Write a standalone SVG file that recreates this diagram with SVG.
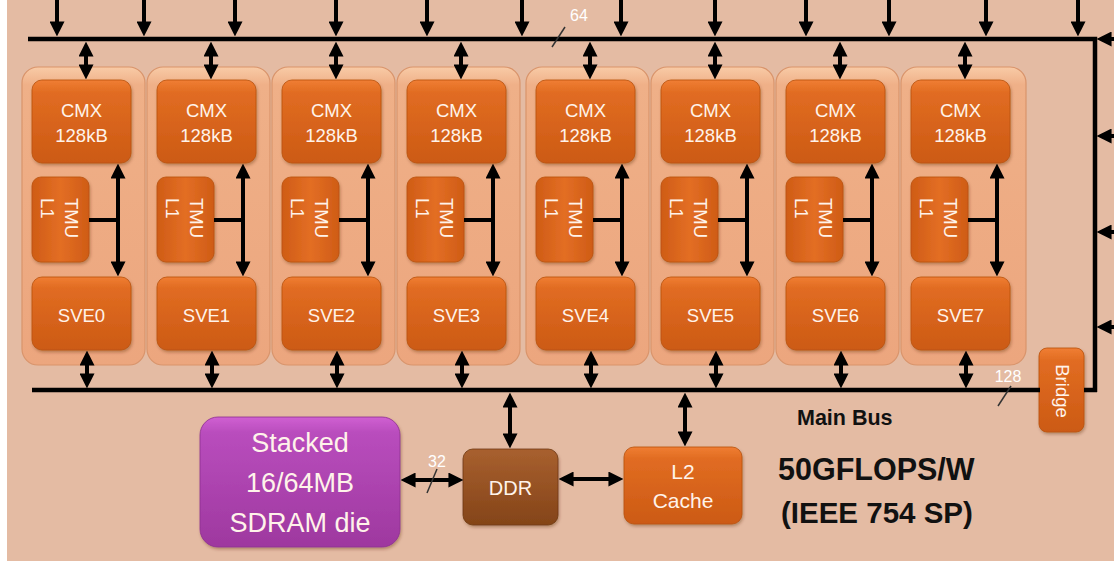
<svg xmlns="http://www.w3.org/2000/svg" width="1114" height="561" viewBox="0 0 1114 561">
<defs>
<linearGradient id="gOr" x1="0" y1="0" x2="0" y2="1"><stop offset="0" stop-color="#F07E33"/><stop offset="0.15" stop-color="#E16C22"/><stop offset="1" stop-color="#CC5A14"/></linearGradient>
<linearGradient id="gOrH" x1="0" y1="0" x2="1" y2="0"><stop offset="0" stop-color="#CF5C16"/><stop offset="0.5" stop-color="#E36E24"/><stop offset="1" stop-color="#CF5C16"/></linearGradient>
<linearGradient id="gOut" x1="0" y1="0" x2="0" y2="1"><stop offset="0" stop-color="#F8CBA6"/><stop offset="0.06" stop-color="#EFB088"/><stop offset="1" stop-color="#ECA67E"/></linearGradient>
<linearGradient id="gPur" x1="0" y1="0" x2="0" y2="1"><stop offset="0" stop-color="#D060D2"/><stop offset="0.12" stop-color="#B94DBD"/><stop offset="1" stop-color="#9E389F"/></linearGradient>
<linearGradient id="gBr" x1="0" y1="0" x2="0" y2="1"><stop offset="0" stop-color="#A8602F"/><stop offset="1" stop-color="#844418"/></linearGradient>
<filter id="sh" x="-10%" y="-10%" width="120%" height="125%"><feDropShadow dx="1" dy="2" stdDeviation="1.5" flood-color="#5a2a0a" flood-opacity="0.35"/></filter>
<marker id="ah" viewBox="0 0 14 14" refX="8" refY="7" markerWidth="15" markerHeight="15" markerUnits="userSpaceOnUse" orient="auto-start-reverse"><path d="M0,0 L14,7 L0,14 z" fill="#000"/></marker>
</defs>
<style>
.outer{fill:url(#gOut);stroke:#D9946B;stroke-width:1.2}
.box{fill:url(#gOr);stroke:#B9520F;stroke-width:0.8;filter:url(#sh)}
.tmu{fill:url(#gOrH);stroke:#B9520F;stroke-width:0.8;filter:url(#sh)}
.t{font-family:"Liberation Sans",Arial,sans-serif;fill:#FFF3EA;font-size:18.5px;text-anchor:middle}
.tr{font-family:"Liberation Sans",Arial,sans-serif;fill:#FFF3EA;font-size:18.5px}
.bus{stroke:#000;stroke-width:4.5;fill:none}
.c{stroke:#000;stroke-width:4;fill:none}
.c1{stroke:#000;stroke-width:4;fill:none;marker-end:url(#ah)}
.c2{stroke:#000;stroke-width:4;fill:none;marker-start:url(#ah);marker-end:url(#ah)}
.lbl{font-family:"Liberation Sans",Arial,sans-serif;fill:#FFFFFF;font-size:16px;text-anchor:middle}
.blk{font-family:"Liberation Sans",Arial,sans-serif;font-weight:bold;fill:#111}
</style>
<rect x="0" y="0" width="1114" height="561" fill="#FFFFFF"/>
<rect x="7" y="0" width="1107" height="561" fill="#E4BBA3"/>

<g id="col0"><rect class="outer" x="22" y="67" width="123" height="298" rx="16"/>
<g id="cmx0"><rect class="box" x="32" y="80" width="99" height="83" rx="10"/><text class="t" x="81.5" y="117">CMX</text><text class="t" x="81.5" y="142">128kB</text></g>
<g id="tmu0"><rect class="tmu" x="32" y="177" width="57" height="85" rx="9"/><text class="tr" transform="translate(65,198) rotate(90)">TMU</text><text class="tr" transform="translate(41,198) rotate(90)">L1</text></g>
<g id="sve0"><rect class="box" x="32" y="277" width="99" height="73" rx="10"/><text class="t" x="81.5" y="322">SVE0</text></g></g>

<g id="col1"><rect class="outer" x="147" y="67" width="123" height="298" rx="16"/>
<g id="cmx1"><rect class="box" x="157" y="80" width="99" height="83" rx="10"/><text class="t" x="206.5" y="117">CMX</text><text class="t" x="206.5" y="142">128kB</text></g>
<g id="tmu1"><rect class="tmu" x="157" y="177" width="57" height="85" rx="9"/><text class="tr" transform="translate(190,198) rotate(90)">TMU</text><text class="tr" transform="translate(166,198) rotate(90)">L1</text></g>
<g id="sve1"><rect class="box" x="157" y="277" width="99" height="73" rx="10"/><text class="t" x="206.5" y="322">SVE1</text></g></g>

<g id="col2"><rect class="outer" x="272" y="67" width="123" height="298" rx="16"/>
<g id="cmx2"><rect class="box" x="282" y="80" width="99" height="83" rx="10"/><text class="t" x="331.5" y="117">CMX</text><text class="t" x="331.5" y="142">128kB</text></g>
<g id="tmu2"><rect class="tmu" x="282" y="177" width="57" height="85" rx="9"/><text class="tr" transform="translate(315,198) rotate(90)">TMU</text><text class="tr" transform="translate(291,198) rotate(90)">L1</text></g>
<g id="sve2"><rect class="box" x="282" y="277" width="99" height="73" rx="10"/><text class="t" x="331.5" y="322">SVE2</text></g></g>

<g id="col3"><rect class="outer" x="397" y="67" width="123" height="298" rx="16"/>
<g id="cmx3"><rect class="box" x="407" y="80" width="99" height="83" rx="10"/><text class="t" x="456.5" y="117">CMX</text><text class="t" x="456.5" y="142">128kB</text></g>
<g id="tmu3"><rect class="tmu" x="407" y="177" width="57" height="85" rx="9"/><text class="tr" transform="translate(440,198) rotate(90)">TMU</text><text class="tr" transform="translate(416,198) rotate(90)">L1</text></g>
<g id="sve3"><rect class="box" x="407" y="277" width="99" height="73" rx="10"/><text class="t" x="456.5" y="322">SVE3</text></g></g>

<g id="col4"><rect class="outer" x="526" y="67" width="123" height="298" rx="16"/>
<g id="cmx4"><rect class="box" x="536" y="80" width="99" height="83" rx="10"/><text class="t" x="585.5" y="117">CMX</text><text class="t" x="585.5" y="142">128kB</text></g>
<g id="tmu4"><rect class="tmu" x="536" y="177" width="57" height="85" rx="9"/><text class="tr" transform="translate(569,198) rotate(90)">TMU</text><text class="tr" transform="translate(545,198) rotate(90)">L1</text></g>
<g id="sve4"><rect class="box" x="536" y="277" width="99" height="73" rx="10"/><text class="t" x="585.5" y="322">SVE4</text></g></g>

<g id="col5"><rect class="outer" x="651" y="67" width="123" height="298" rx="16"/>
<g id="cmx5"><rect class="box" x="661" y="80" width="99" height="83" rx="10"/><text class="t" x="710.5" y="117">CMX</text><text class="t" x="710.5" y="142">128kB</text></g>
<g id="tmu5"><rect class="tmu" x="661" y="177" width="57" height="85" rx="9"/><text class="tr" transform="translate(694,198) rotate(90)">TMU</text><text class="tr" transform="translate(670,198) rotate(90)">L1</text></g>
<g id="sve5"><rect class="box" x="661" y="277" width="99" height="73" rx="10"/><text class="t" x="710.5" y="322">SVE5</text></g></g>

<g id="col6"><rect class="outer" x="776" y="67" width="123" height="298" rx="16"/>
<g id="cmx6"><rect class="box" x="786" y="80" width="99" height="83" rx="10"/><text class="t" x="835.5" y="117">CMX</text><text class="t" x="835.5" y="142">128kB</text></g>
<g id="tmu6"><rect class="tmu" x="786" y="177" width="57" height="85" rx="9"/><text class="tr" transform="translate(819,198) rotate(90)">TMU</text><text class="tr" transform="translate(795,198) rotate(90)">L1</text></g>
<g id="sve6"><rect class="box" x="786" y="277" width="99" height="73" rx="10"/><text class="t" x="835.5" y="322">SVE6</text></g></g>

<g id="col7"><rect class="outer" x="901" y="67" width="125" height="298" rx="16"/>
<g id="cmx7"><rect class="box" x="911" y="80" width="99" height="83" rx="10"/><text class="t" x="960.5" y="117">CMX</text><text class="t" x="960.5" y="142">128kB</text></g>
<g id="tmu7"><rect class="tmu" x="911" y="177" width="57" height="85" rx="9"/><text class="tr" transform="translate(944,198) rotate(90)">TMU</text><text class="tr" transform="translate(920,198) rotate(90)">L1</text></g>
<g id="sve7"><rect class="box" x="911" y="277" width="99" height="73" rx="10"/><text class="t" x="960.5" y="322">SVE7</text></g></g>

<g id="bridge"><rect class="box" x="1039" y="348" width="45" height="84" rx="8"/><text class="tr" text-anchor="middle" transform="translate(1056,391) rotate(90)">Bridge</text></g>

<g id="sdram"><rect x="200" y="417" width="200" height="130" rx="18" fill="url(#gPur)" stroke="#8E308F" stroke-width="0.8" filter="url(#sh)"/>
<text class="t" style="font-size:27px" x="300" y="452">Stacked</text><text class="t" style="font-size:27px" x="300" y="492">16/64MB</text><text class="t" style="font-size:27px" x="300" y="532">SDRAM die</text></g>

<g id="ddr"><rect x="463" y="449" width="95" height="76" rx="10" fill="url(#gBr)" stroke="#6E3812" stroke-width="0.8" filter="url(#sh)"/><text class="t" style="font-size:20px" x="510.5" y="495">DDR</text></g>

<g id="l2"><rect class="box" x="624" y="447" width="118" height="77" rx="10"/><text class="t" style="font-size:21px" x="683" y="479">L2</text><text class="t" style="font-size:21px" x="683" y="508">Cache</text></g>

<g id="labels">
<text class="blk" style="font-size:21.5px" x="797" y="425">Main Bus</text>
<text class="blk" style="font-size:30.5px" x="778" y="480">50GFLOPS/W</text>
<text class="blk" style="font-size:29.5px" x="781" y="523">(IEEE 754 SP)</text>
</g>

<g id="connectors">
<path class="bus" d="M28,39 H1095 V392"/>
<path class="bus" d="M32,390 H1040 M1084,390 H1097"/>
<line class="c1" x1="57" y1="0" x2="57" y2="30"/>
<line class="c1" x1="144" y1="0" x2="144" y2="30"/>
<line class="c1" x1="235" y1="0" x2="235" y2="30"/>
<line class="c1" x1="336" y1="0" x2="336" y2="30"/>
<line class="c1" x1="427" y1="0" x2="427" y2="30"/>
<line class="c1" x1="522" y1="0" x2="522" y2="30"/>
<line class="c1" x1="621" y1="0" x2="621" y2="30"/>
<line class="c1" x1="715" y1="0" x2="715" y2="30"/>
<line class="c1" x1="806" y1="0" x2="806" y2="30"/>
<line class="c1" x1="889" y1="0" x2="889" y2="30"/>
<line class="c1" x1="986" y1="0" x2="986" y2="30"/>
<line class="c1" x1="1078" y1="0" x2="1078" y2="30"/>
<line class="c1" x1="1116" y1="39" x2="1103" y2="39"/>
<line class="c1" x1="1116" y1="136" x2="1103" y2="136"/>
<line class="c1" x1="1116" y1="232" x2="1103" y2="232"/>
<line class="c1" x1="1116" y1="327" x2="1103" y2="327"/>
<line class="c2" x1="86" y1="48" x2="86" y2="73"/>
<line class="c2" x1="211" y1="48" x2="211" y2="73"/>
<line class="c2" x1="336" y1="48" x2="336" y2="73"/>
<line class="c2" x1="461" y1="48" x2="461" y2="73"/>
<line class="c2" x1="590" y1="48" x2="590" y2="73"/>
<line class="c2" x1="715" y1="48" x2="715" y2="73"/>
<line class="c2" x1="840" y1="48" x2="840" y2="73"/>
<line class="c2" x1="965" y1="48" x2="965" y2="73"/>
<line class="c2" x1="118" y1="170" x2="118" y2="270"/><line class="c" x1="89" y1="220" x2="118" y2="220"/>
<line class="c2" x1="243" y1="170" x2="243" y2="270"/><line class="c" x1="214" y1="220" x2="243" y2="220"/>
<line class="c2" x1="368" y1="170" x2="368" y2="270"/><line class="c" x1="339" y1="220" x2="368" y2="220"/>
<line class="c2" x1="493" y1="170" x2="493" y2="270"/><line class="c" x1="464" y1="220" x2="493" y2="220"/>
<line class="c2" x1="622" y1="170" x2="622" y2="270"/><line class="c" x1="593" y1="220" x2="622" y2="220"/>
<line class="c2" x1="747" y1="170" x2="747" y2="270"/><line class="c" x1="718" y1="220" x2="747" y2="220"/>
<line class="c2" x1="872" y1="170" x2="872" y2="270"/><line class="c" x1="843" y1="220" x2="872" y2="220"/>
<line class="c2" x1="997" y1="170" x2="997" y2="270"/><line class="c" x1="968" y1="220" x2="997" y2="220"/>
<line class="c2" x1="87" y1="357" x2="87" y2="382"/>
<line class="c2" x1="212" y1="357" x2="212" y2="382"/>
<line class="c2" x1="337" y1="357" x2="337" y2="382"/>
<line class="c2" x1="462" y1="357" x2="462" y2="382"/>
<line class="c2" x1="591" y1="357" x2="591" y2="382"/>
<line class="c2" x1="716" y1="357" x2="716" y2="382"/>
<line class="c2" x1="841" y1="357" x2="841" y2="382"/>
<line class="c2" x1="966" y1="357" x2="966" y2="382"/>
<line class="c2" x1="510" y1="399" x2="510" y2="442"/>
<line class="c2" x1="685" y1="399" x2="685" y2="440"/>
<line class="c2" x1="407" y1="480" x2="457" y2="480"/>
<line class="c2" x1="565" y1="479" x2="617" y2="479"/>
<line x1="552" y1="47" x2="565" y2="27" stroke="#333" stroke-width="1.5"/>
<text class="lbl" x="579" y="21">64</text>
<line x1="427" y1="493" x2="437" y2="469" stroke="#333" stroke-width="1.5"/>
<text class="lbl" x="437" y="467">32</text>
<line x1="998" y1="406" x2="1011" y2="386" stroke="#333" stroke-width="1.5"/>
<text class="lbl" x="1008" y="382">128</text>
</g>
</svg>
